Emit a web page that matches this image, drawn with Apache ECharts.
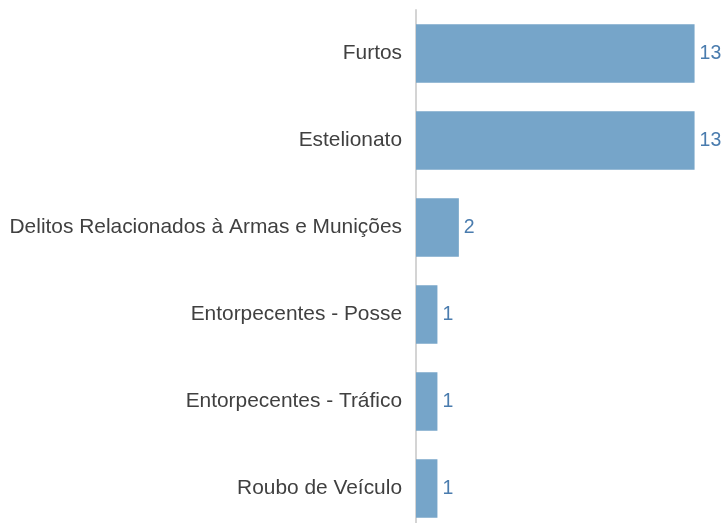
<!DOCTYPE html>
<html>
<head>
<meta charset="utf-8">
<script src="https://cdn.jsdelivr.net/npm/echarts@6/dist/echarts.min.js"></script>
<style>
  html, body { margin: 0; padding: 0; background: #ffffff; overflow: hidden; }
  /* the plot continues a little below the visible page edge */
  #chart { width: 726px; height: 532px; }
</style>
</head>
<body>
<div id="chart"></div>
<script>
// Occurrences by offence type
var categories = [
  'Furtos',
  'Estelionato',
  'Delitos Relacionados à Armas e Munições',
  'Entorpecentes - Posse',
  'Entorpecentes - Tráfico',
  'Roubo de Veículo'
];
var counts = [13, 13, 2, 1, 1, 1];

var chart = echarts.init(document.getElementById('chart'), null, { renderer: 'canvas' });

chart.setOption({
  animation: false,
  grid: { left: 416, right: 10, top: 10, bottom: 0, containLabel: false },
  xAxis: {
    type: 'value',
    min: 0,
    max: 14,
    show: false
  },
  yAxis: {
    type: 'category',
    data: categories,
    inverse: true,
    axisLine: { show: true, lineStyle: { color: '#d4d4d4', width: 2 } },
    axisTick: { show: false },
    axisLabel: {
      margin: 14,
      color: '#404040',
      fontFamily: 'Liberation Sans, Arial, sans-serif',
      fontSize: 20.9
    },
    splitLine: { show: false }
  },
  series: [{
    type: 'bar',
    data: counts,
    barCategoryGap: '33%',
    itemStyle: { color: '#76a5c9' },
    label: {
      show: true,
      position: 'right',
      distance: 5,
      color: '#4a7cae',
      fontFamily: 'Liberation Sans, Arial, sans-serif',
      fontSize: 19.5
    }
  }]
});
</script>
</body>
</html>
